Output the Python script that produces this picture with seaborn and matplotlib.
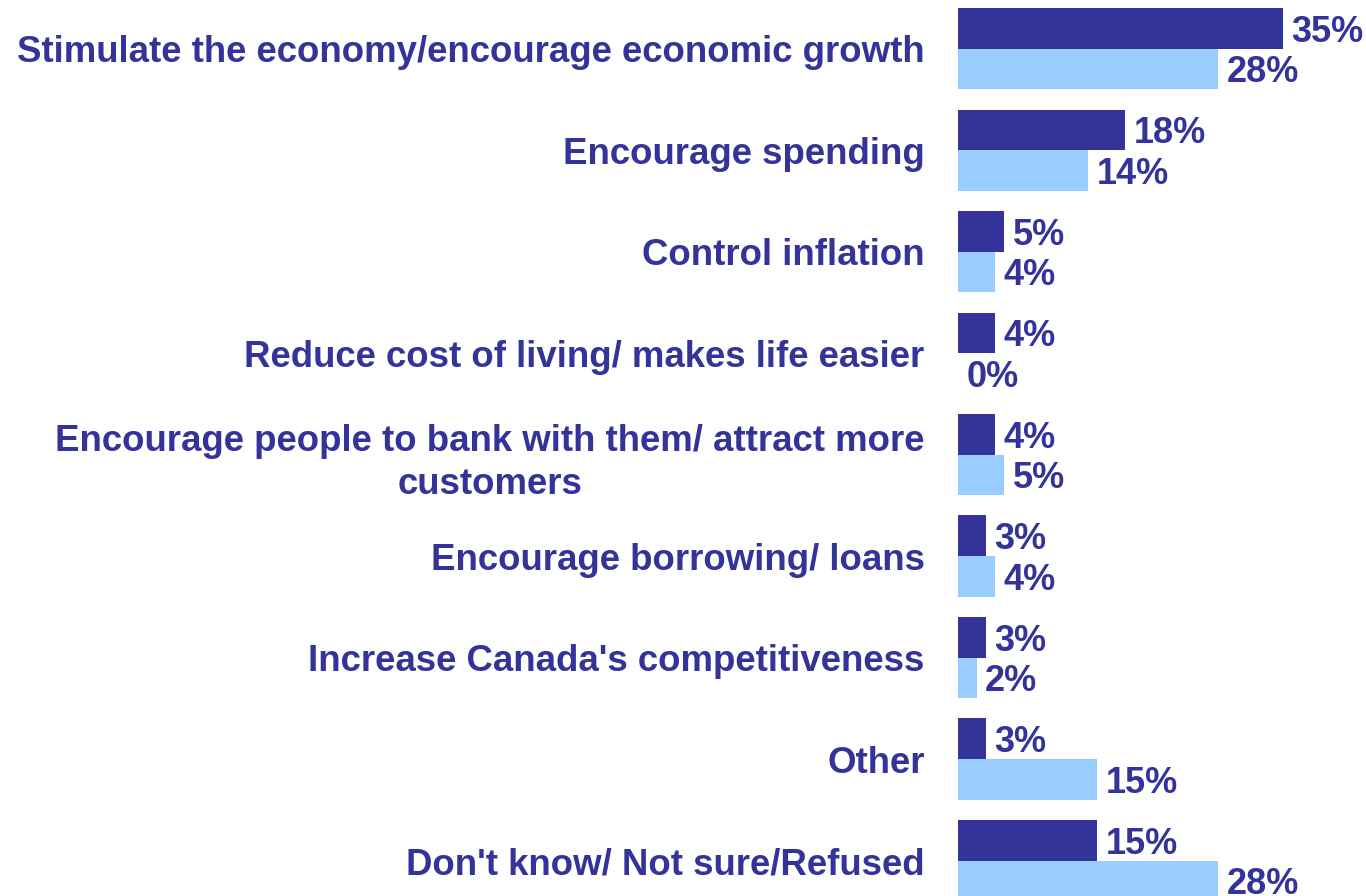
import matplotlib
matplotlib.use("Agg")
import matplotlib.pyplot as plt
import seaborn as sns
import pandas as pd

categories = [
    "Stimulate the economy/encourage economic growth",
    "Encourage spending",
    "Control inflation",
    "Reduce cost of living/ makes life easier",
    "Encourage people to bank with them/ attract more\ncustomers",
    "Encourage borrowing/ loans",
    "Increase Canada's competitiveness",
    "Other",
    "Don't know/ Not sure/Refused",
]
series_names = ["Group 1", "Group 2"]
values_group1 = [35, 18, 5, 4, 4, 3, 3, 3, 15]
values_group2 = [28, 14, 4, 0, 5, 4, 2, 15, 28]

DARK = "#333399"
LIGHT = "#99CCFF"
TEXT = "#333399"

df = pd.DataFrame({
    "category": categories * 2,
    "group": [series_names[0]] * len(categories) + [series_names[1]] * len(categories),
    "value": values_group1 + values_group2,
})

sns.set_theme(style="white")
plt.rcParams["font.family"] = ["Liberation Sans", "DejaVu Sans"]

fig = plt.figure(figsize=(13.66, 8.96), dpi=100)
ax = fig.add_axes([958 / 1366, 0, 408 / 1366, 1])

sns.barplot(
    data=df, y="category", x="value", hue="group", order=categories,
    hue_order=series_names, palette=[DARK, LIGHT], orient="h",
    width=0.8, saturation=1, legend=False, ax=ax, errorbar=None,
    linewidth=0,
)

for container, vals in zip(ax.containers, [values_group1, values_group2]):
    texts = ax.bar_label(container, labels=[f"{v}%" for v in vals], padding=6,
                         fontsize=26, fontweight="bold", color=TEXT)
    for t in texts:
        t.set_verticalalignment("center_baseline")

ax.set_xlim(0, 408 / 9.29)
ax.set_ylim(8.349, -0.479)
ax.set_xlabel("")
ax.set_ylabel("")
ax.set_xticks([])
for s in ax.spines.values():
    s.set_visible(False)
ax.tick_params(axis="y", length=0, pad=24)
for lab in ax.get_yticklabels():
    lab.set_fontsize(26.4)
    lab.set_fontweight("bold")
    lab.set_color(TEXT)
    lab.set_multialignment("center")
    lab.set_linespacing(1.3)

fig.savefig("out.png", dpi=100)
